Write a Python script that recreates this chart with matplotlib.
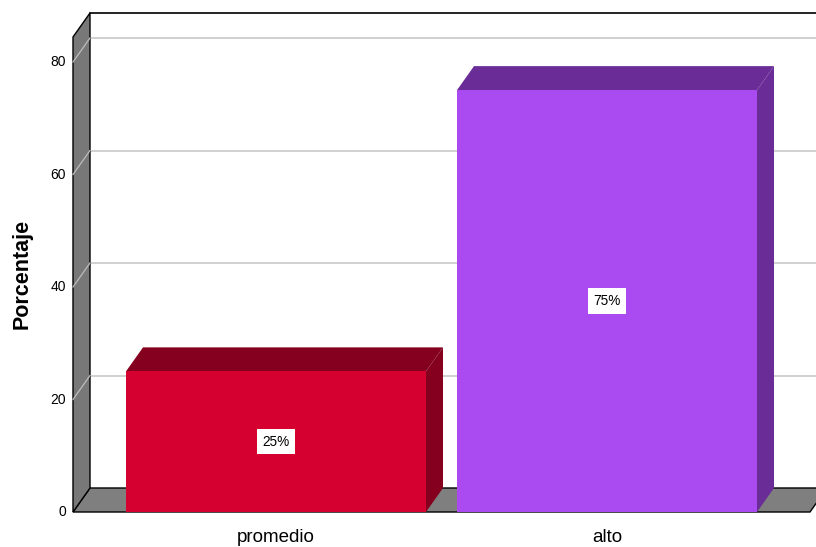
import matplotlib
matplotlib.use("Agg")
import matplotlib.pyplot as plt
from matplotlib.patches import Polygon

# data
categories = ["promedio", "alto"]
values = [25, 75]
labels = ["25%", "75%"]
yticks = [0, 20, 40, 60, 80]

front_colors = ["#D5002F", "#A94BF1"]
dark_colors = ["#85001F", "#6A2C97"]

plt.rcParams['font.family'] = ['Liberation Sans', 'DejaVu Sans']

fig = plt.figure(figsize=(8.16, 5.47), dpi=100)
ax = fig.add_axes([0, 0, 1, 1])
ax.axis('off')

# scale: 331 px per category, 5.625 px per percent
ax.set_xlim(-276 / 331, 540 / 331)
ax.set_ylim(-35 / 5.625, 512 / 5.625)

x0 = (73 - 276) / 331      # front left edge
xr = (810 - 276) / 331     # front right edge of floor
dx = 17 / 331              # depth offset
dy = 24 / 5.625
top = (512 - 37) / 5.625
xend = ax.get_xlim()[1] + 0.1
bw = 300 / 331

# back wall
ax.add_patch(Polygon([(x0 + dx, dy), (xend, dy), (xend, top + dy), (x0 + dx, top + dy)],
                     closed=True, fc='white', ec='none', zorder=1))
ax.plot([x0 + dx, xend], [top + dy, top + dy], color='black', lw=1.2, zorder=2)

# gridlines on back and left wall
for v in yticks[1:]:
    ax.plot([x0 + dx, xend], [v + dy, v + dy], color='#C8C8C8', lw=1.2, zorder=2)

# floor
ax.add_patch(Polygon([(x0, 0), (xr, 0), (xr + dx, dy), (x0 + dx, dy)],
                     closed=True, fc='#7F7F7F', ec='black', lw=1, zorder=3))
# left wall
ax.add_patch(Polygon([(x0, 0), (x0, top), (x0 + dx, top + dy), (x0 + dx, dy)],
                     closed=True, fc='#787878', ec='black', lw=1, zorder=3))
for v in yticks[1:]:
    ax.plot([x0, x0 + dx], [v, v + dy], color='#BDBDBD', lw=0.9, zorder=4)

# bars
for i, (v, fc, dc) in enumerate(zip(values, front_colors, dark_colors)):
    l, r = i - bw / 2, i + bw / 2
    ax.add_patch(Polygon([(r, 0), (r + dx, dy), (r + dx, v + dy), (r, v)],
                         closed=True, fc=dc, ec='none', zorder=5))
    ax.add_patch(Polygon([(l, v), (r, v), (r + dx, v + dy), (l + dx, v + dy)],
                         closed=True, fc=dc, ec='none', zorder=5))
    ax.add_patch(Polygon([(l, 0), (r, 0), (r, v), (l, v)],
                         closed=True, fc=fc, ec='none', zorder=6))
    ax.text(i, v / 2, labels[i], ha='center', va='center', fontsize=9.8, zorder=7,
            bbox=dict(boxstyle='square,pad=0.42', fc='white', ec='none'))
    ax.text(i, -4.6, categories[i], ha='center', va='center', fontsize=13.5)

# y tick labels
for v in yticks:
    ax.text((66 - 276) / 331, v, str(v), ha='right', va='center', fontsize=10)

ax.text((22 - 276) / 331, 42.3, "Porcentaje", rotation=90, ha='center', va='center',
        fontsize=15.5, fontweight='bold')

fig.savefig("out.png", dpi=100)
